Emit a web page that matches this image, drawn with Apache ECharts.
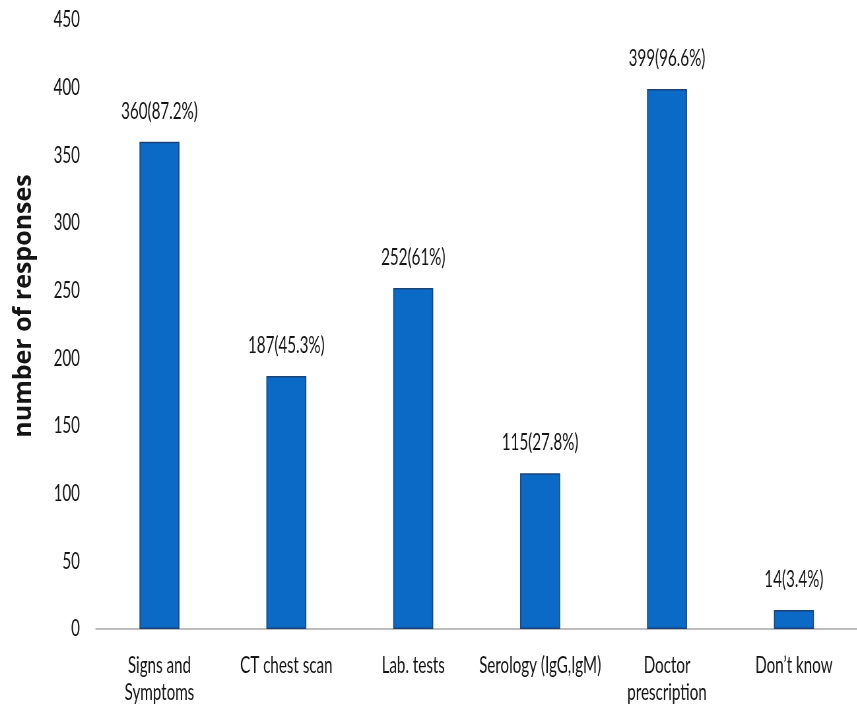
<!DOCTYPE html>
<html>
<head>
<meta charset="utf-8">
<script src="https://cdn.jsdelivr.net/npm/echarts@6/dist/echarts.min.js"></script>
<style>
  html, body { margin: 0; padding: 0; background: #ffffff; overflow: hidden; }
  #frame { width: 857px; height: 712px; overflow: hidden; position: relative; }
  /* The chart is laid out wider and squeezed horizontally to get the narrow type */
  #chart { position: absolute; left: 0; top: 0; height: 712px; transform-origin: 0 0; }
</style>
</head>
<body>
<div id="frame"><div id="chart"></div></div>
<script>
// Categories along the x axis
const categories = [
  'Signs and\nSymptoms',
  'CT chest scan',
  'Lab. tests',
  'Serology (IgG,IgM)',
  'Doctor\nprescription',
  'Don\u2019t know'
];
// Number of responses per category
const responses = [360, 187, 252, 115, 399, 14];
// Share of respondents, shown next to each count
const percents = ['87.2%', '45.3%', '61%', '27.8%', '96.6%', '3.4%'];
// Value axis ticks
const yTicks = [0, 50, 100, 150, 200, 250, 300, 350, 400, 450];

// horizontal squeeze factor and helper converting screen px to layout px
const SX = 0.66;
const px = (v) => v / SX;

const el = document.getElementById('chart');
el.style.width = Math.ceil(px(857)) + 'px';
el.style.transform = 'scaleX(' + SX + ')';

const textFont = 'Lato, "Open Sans", "Noto Sans", sans-serif';
const textColor = '#141414';

const chart = echarts.init(el, null, { renderer: 'canvas' });

chart.setOption({
  animation: false,
  backgroundColor: '#ffffff',
  grid: { left: px(96), width: px(773), top: 20, height: 609, containLabel: false },
  xAxis: {
    type: 'category',
    data: categories,
    boundaryGap: true,
    axisLine: { show: true, lineStyle: { color: '#bdbdbd', width: 2 } },
    axisTick: { show: false },
    axisLabel: {
      interval: 0,
      margin: 23,
      fontFamily: textFont,
      fontSize: 23,
      lineHeight: 27,
      color: textColor
    }
  },
  yAxis: {
    type: 'value',
    min: yTicks[0],
    max: yTicks[yTicks.length - 1],
    interval: 50,
    splitLine: { show: false },
    axisLine: { show: false },
    axisTick: { show: false },
    axisLabel: {
      margin: px(16),
      fontFamily: textFont,
      fontSize: 23,
      color: textColor
    }
  },
  graphic: [{
    type: 'text',
    x: px(24),
    y: 306,
    rotation: Math.PI / 2,
    scaleY: 1 / SX,
    style: {
      text: 'number of responses',
      fontFamily: '"Open Sans", "DejaVu Sans", sans-serif',
      fontWeight: 'bold',
      fontSize: 25,
      fill: textColor,
      align: 'center',
      verticalAlign: 'middle',
      textAlign: 'center',
      textVerticalAlign: 'middle'
    }
  }],
  series: [{
    type: 'bar',
    data: responses,
    barWidth: px(40),
    itemStyle: {
      color: '#0A6AC6',
      borderColor: '#1B4279',
      borderWidth: 1.5
    },
    label: {
      show: true,
      position: 'top',
      distance: 19,
      fontFamily: textFont,
      fontSize: 23,
      color: textColor,
      formatter: (p) => p.value + '(' + percents[p.dataIndex] + ')'
    }
  }]
});
</script>
</body>
</html>
